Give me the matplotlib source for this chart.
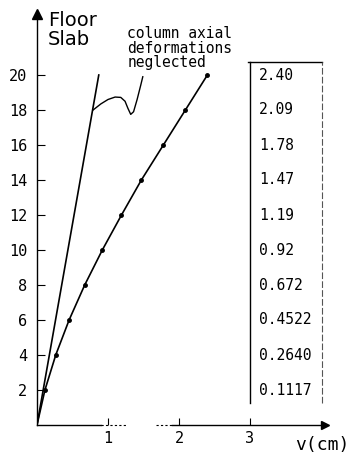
import matplotlib.pyplot as plt

# floor slab levels and lateral displacements v (cm)
floors = [0, 2, 4, 6, 8, 10, 12, 14, 16, 18, 20]
v_axial = [0, 0.1117, 0.2640, 0.4522, 0.672, 0.92, 1.19, 1.47, 1.78, 2.09, 2.40]
table_labels = ['0.1117', '0.2640', '0.4522', '0.672', '0.92',
                '1.19', '1.47', '1.78', '2.09', '2.40']

# straight line when column axial deformations are neglected
v_neglect = [0, 0.87]
floors_neglect = [0, 20]

# leader from the straight line to the note
leader_x = [0.79, 0.90, 1.00, 1.10, 1.18, 1.24, 1.28, 1.32, 1.36, 1.41, 1.46, 1.49]
leader_y = [18.0, 18.35, 18.6, 18.74, 18.72, 18.5, 18.1, 17.75, 17.9, 18.6, 19.4, 19.9]

mono = 'DejaVu Sans Mono'

fig = plt.figure(figsize=(3.54, 4.61), dpi=100)
ax = fig.add_axes([37 / 354, 36 / 461, 1 - 37 / 354, 1 - 36 / 461])
ax.set_xlim(0, 317 / 71)
ax.set_ylim(0, 425 / 17.5)

for s in ['top', 'right', 'bottom']:
    ax.spines[s].set_visible(False)
ax.spines['left'].set_bounds(0, 23.3)
ax.spines['left'].set_linewidth(1.0)

# axis arrows
ax.plot(0, 23.5, marker='^', color='black', markersize=7, clip_on=False)
ax.plot(4.05, 0, marker='>', color='black', markersize=6, clip_on=False)

# broken x axis, as on the scan
ax.plot([0, 0.9], [0, 0], color='black', lw=1.0, clip_on=False)
ax.plot([0.9, 1.27], [0, 0], color='black', lw=0.8, ls=(0, (2, 2)), clip_on=False)
ax.plot([1.68, 1.9], [0, 0], color='black', lw=0.8, ls=(0, (2, 2)), clip_on=False)
ax.plot([1.9, 4.0], [0, 0], color='black', lw=1.0, clip_on=False)

ax.set_xticks([1, 2, 3])
ax.set_yticks(floors[1:])
ax.tick_params(axis='x', direction='in', length=5, width=0.8, pad=4, labelsize=11)
ax.tick_params(axis='y', direction='in', length=6, width=0.8, pad=7, labelsize=11)
for lab in ax.get_xticklabels() + ax.get_yticklabels():
    lab.set_family(mono)

# curves
ax.plot(v_neglect, floors_neglect, color='black', lw=1.2)
ax.plot(v_axial, floors, color='black', lw=1.2, marker='o', markersize=2.5,
        markevery=list(range(1, len(floors))))
ax.plot(leader_x, leader_y, color='black', lw=1.0)

# table of displacements
ax.plot([3.0, 3.0], [1.26, 20.74], color='black', lw=1.0)
ax.plot([2.97, 4.02], [20.74, 20.74], color='black', lw=1.0)
ax.plot([4.02, 4.02], [1.26, 20.74], color='#555555', lw=0.8, ls=(0, (6, 2)))
for f, lab in zip(floors[1:], table_labels):
    ax.text(3.13, f, lab, family=mono, fontsize=10.5, va='center', ha='left')

# labels
ax.text(0.15, 22.8, 'Floor', fontsize=14, va='baseline', ha='left')
ax.text(0.15, 21.72, 'Slab', fontsize=14, va='baseline', ha='left')
ax.text(1.27, 21.54, 'column axial\ndeformations\nneglected', family=mono,
        fontsize=10.5, va='center', ha='left', linespacing=0.96)
ax.text(3.63, -1.15, 'v(cm)', family=mono, fontsize=13, va='center', ha='left',
        clip_on=False)

fig.savefig('out.png', dpi=100)
